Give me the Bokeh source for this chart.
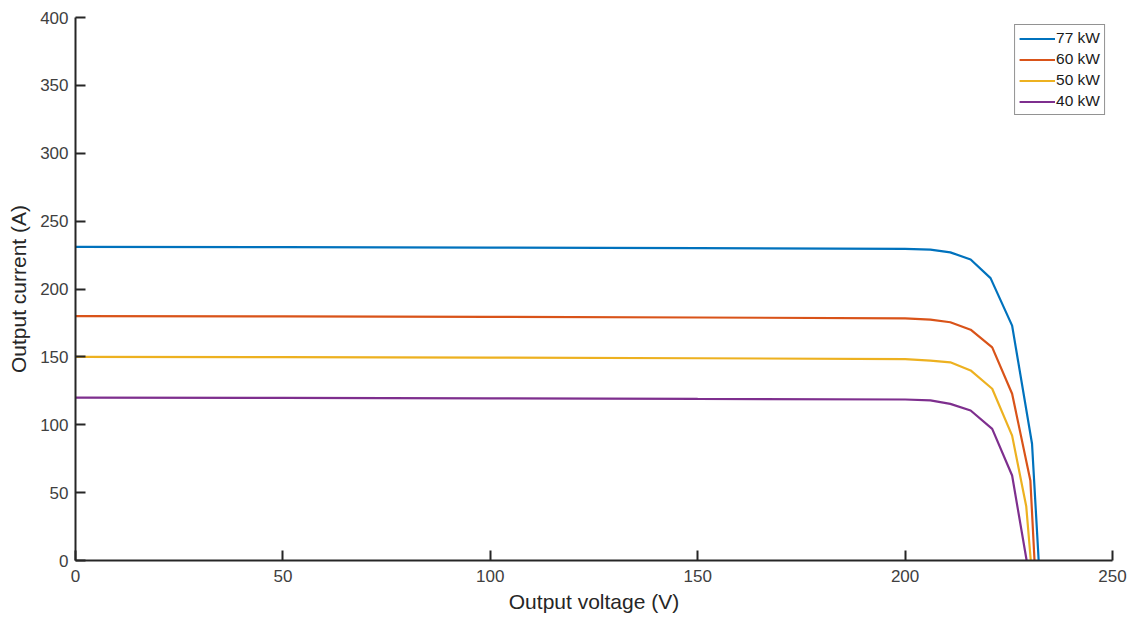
from bokeh.plotting import figure
from bokeh.models import Range1d, Legend, LegendItem, FixedTicker
from bokeh.embed import file_html
from bokeh.resources import INLINE

# Data
v_77 = [0, 50, 100, 150, 200, 206.1, 210.9, 215.8, 220.6, 225.8, 230.6, 232.2]
i_77 = [231, 230.8, 230.5, 230.1, 229.6, 229.0, 227.0, 221.7, 208.0, 173.0, 86.0, 0]

v_60 = [0, 50, 100, 150, 200, 206.1, 210.9, 215.8, 221.0, 225.8, 230.2, 231.2]
i_60 = [180, 179.8, 179.5, 179.0, 178.4, 177.5, 175.5, 170.0, 157.0, 122.8, 59.0, 0]

v_50 = [0, 50, 100, 150, 200, 206.1, 210.9, 215.8, 221.0, 225.8, 229.2, 230.3]
i_50 = [150, 149.8, 149.5, 149.0, 148.4, 147.3, 146.0, 140.0, 126.5, 92.0, 40.0, 0]

v_40 = [0, 50, 100, 150, 200, 206.1, 210.9, 215.8, 221.0, 225.8, 229.3]
i_40 = [120, 119.8, 119.5, 119.0, 118.6, 118.0, 115.4, 110.5, 97.0, 62.6, 0]

series_names = ["77 kW", "60 kW", "50 kW", "40 kW"]
series_colors = ["#0072BD", "#D95319", "#EDB120", "#7E2F8E"]
x_ticks = [0, 50, 100, 150, 200, 250]
y_ticks = [0, 50, 100, 150, 200, 250, 300, 350, 400]

p = figure(output_backend="svg", toolbar_location=None,
           frame_width=1037, frame_height=543,
           min_border_left=75, min_border_right=25,
           min_border_top=17, min_border_bottom=60,
           x_range=Range1d(0, 250), y_range=Range1d(0, 400))
p.width = 1137
p.height = 620

p.outline_line_color = None
p.xgrid.visible = False
p.ygrid.visible = False
p.background_fill_color = "white"
p.border_fill_color = "white"

p.xaxis.ticker = FixedTicker(ticks=x_ticks)
p.yaxis.ticker = FixedTicker(ticks=y_ticks)
for ax in (p.xaxis, p.yaxis):
    ax.axis_line_color = "#262626"
    ax.axis_line_width = 2
    ax.major_tick_line_color = "#262626"
    ax.major_tick_line_width = 2
    ax.major_tick_in = 10
    ax.major_tick_out = 0
    ax.minor_tick_line_color = None
    ax.major_label_text_font = "Liberation Sans"
    ax.major_label_text_font_size = "17px"
    ax.major_label_text_color = "#404040"
    ax.axis_label_text_font = "Liberation Sans"
    ax.axis_label_text_font_size = "21px"
    ax.axis_label_text_font_style = "normal"
    ax.axis_label_text_color = "#262626"

p.xaxis.axis_label = "Output voltage (V)"
p.yaxis.axis_label = "Output current (A)"
p.xaxis.major_label_standoff = 9
p.yaxis.major_label_standoff = 7
p.xaxis.axis_label_standoff = 5
p.yaxis.axis_label_standoff = 7

xs = [v_77, v_60, v_50, v_40]
ys = [i_77, i_60, i_50, i_40]
items = []
for x, y, name, c in zip(xs, ys, series_names, series_colors):
    r = p.line(x, y, line_color=c, line_width=2.2)
    items.append(LegendItem(label=name, renderers=[r]))

legend = Legend(items=items, location="top_right")
legend.label_text_font = "Liberation Sans"
legend.label_text_font_size = "15.5px"
legend.label_text_color = "#1a1a1a"
legend.glyph_width = 36
legend.glyph_height = 17
legend.label_standoff = 1
legend.label_height = 17
legend.spacing = 3
legend.padding = 4
legend.margin = 7
legend.border_line_color = "#262626"
legend.border_line_width = 1.5
legend.background_fill_alpha = 1.0
p.add_layout(legend)

open("out.html", "w").write(file_html(p, INLINE))
